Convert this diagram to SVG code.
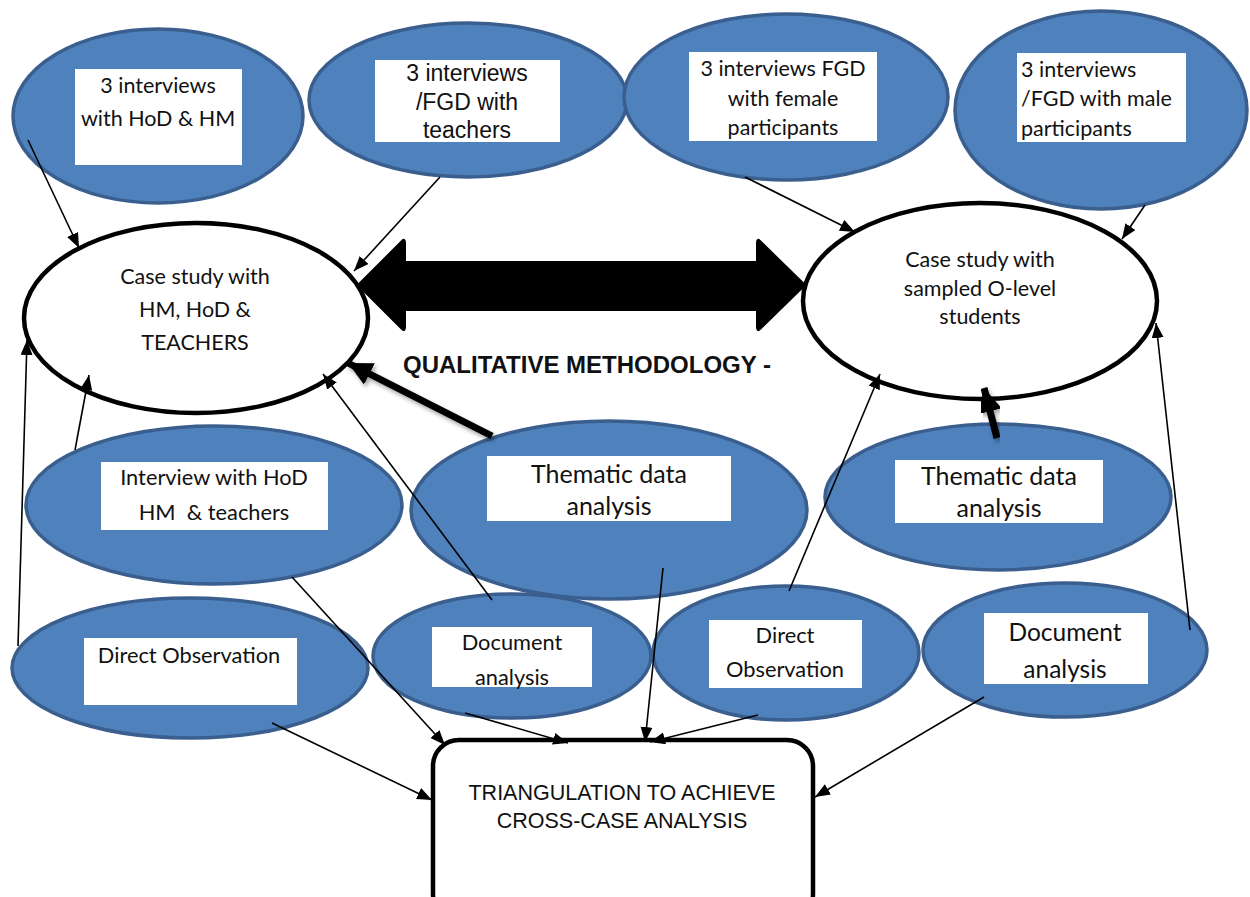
<svg xmlns="http://www.w3.org/2000/svg" width="1250" height="897" viewBox="0 0 1250 897">
  <style>
    .blob { fill: #4F81BD; stroke: #3A5F8E; stroke-width: 3.5; }
    .case { fill: #ffffff; stroke: #000000; stroke-width: 4.5; }
    .box { fill: #ffffff; stroke: none; }
    .cal { font-family: Lato, "Open Sans", sans-serif; fill: #111111; }
    .ari { font-family: "Liberation Sans", Arial, sans-serif; fill: #111111; }
    .link { stroke: #000000; stroke-width: 1.6; fill: none; marker-end: url(#tip); }
    .heavy { stroke: #000000; stroke-width: 7; fill: none; marker-end: url(#bigtip); }
  </style>
  <defs>
    <marker id="tip" markerUnits="userSpaceOnUse" markerWidth="16" markerHeight="14" refX="15" refY="6" orient="auto">
      <path d="M0,0 L15,6 L0,12 Z" fill="#000000"/>
    </marker>
    <marker id="bigtip" markerUnits="userSpaceOnUse" markerWidth="26" markerHeight="26" refX="24" refY="12" orient="auto">
      <path d="M0,0 L24,12 L0,24 Z" fill="#000000"/>
    </marker>
    <filter id="shade" x="-20%" y="-20%" width="140%" height="140%">
      <feGaussianBlur in="SourceAlpha" stdDeviation="2"/>
      <feOffset dx="2" dy="3" result="b"/>
      <feComponentTransfer><feFuncA type="linear" slope="0.35"/></feComponentTransfer>
      <feMerge><feMergeNode/><feMergeNode in="SourceGraphic"/></feMerge>
    </filter>
  </defs>

  <rect width="1250" height="897" fill="#ffffff"/>

  <!-- top row: data sources -->
  <g id="hod-hm-interviews">
    <ellipse class="blob" cx="158" cy="116" rx="145" ry="87"/>
    <rect class="box" x="75" y="69" width="167" height="96"/>
    <text class="cal" font-size="21.5" text-anchor="middle" x="158" y="93">3 interviews</text>
    <text class="cal" font-size="21.5" text-anchor="middle" x="158" y="126">with HoD &amp; HM</text>
  </g>

  <g id="teacher-interviews">
    <ellipse class="blob" cx="468" cy="100" rx="159" ry="77"/>
    <rect class="box" x="375" y="60" width="185" height="82"/>
    <text class="ari" font-size="23" text-anchor="middle" x="467" y="81">3 interviews</text>
    <text class="ari" font-size="23" text-anchor="middle" x="467" y="110">/FGD with</text>
    <text class="ari" font-size="23" text-anchor="middle" x="467" y="138">teachers</text>
  </g>

  <g id="female-interviews">
    <ellipse class="blob" cx="786" cy="97" rx="162" ry="83"/>
    <rect class="box" x="689" y="52" width="188" height="89"/>
    <text class="cal" font-size="21.5" text-anchor="middle" x="783" y="76">3 interviews FGD</text>
    <text class="cal" font-size="21.5" text-anchor="middle" x="783" y="106">with female</text>
    <text class="cal" font-size="21.5" text-anchor="middle" x="783" y="135">participants</text>
  </g>

  <g id="male-interviews">
    <ellipse class="blob" cx="1101" cy="110" rx="146" ry="99"/>
    <rect class="box" x="1017" y="53" width="169" height="89"/>
    <text class="cal" font-size="21.5" x="1021" y="77">3 interviews</text>
    <text class="cal" font-size="21.5" x="1021" y="106">/FGD with male</text>
    <text class="cal" font-size="21.5" x="1021" y="136">participants</text>
  </g>

  <!-- the two cases -->
  <g id="case-staff">
    <ellipse class="case" cx="196" cy="318" rx="172" ry="95"/>
    <text class="cal" font-size="21.5" text-anchor="middle" x="195" y="284">Case study with</text>
    <text class="cal" font-size="21.5" text-anchor="middle" x="195" y="317">HM, HoD &amp;</text>
    <text class="cal" font-size="21.5" text-anchor="middle" x="195" y="350">TEACHERS</text>
  </g>

  <g id="case-students">
    <ellipse class="case" cx="980" cy="301" rx="177" ry="98"/>
    <text class="cal" font-size="21.5" text-anchor="middle" x="980" y="267">Case study with</text>
    <text class="cal" font-size="21.5" text-anchor="middle" x="980" y="296">sampled O-level</text>
    <text class="cal" font-size="21.5" text-anchor="middle" x="980" y="324">students</text>
  </g>

  <!-- double-headed link between the cases -->
  <g id="methodology-arrow">
    <path d="M358,285 L402,241 Q405,238 405,243 L405,262 L757,262 L757,243 Q757,238 760,241 L805,285 L760,329 Q757,332 757,327 L757,310 L405,310 L405,327 Q405,332 402,329 Z" fill="#000000" stroke="#000000" stroke-width="2" stroke-linejoin="round"/>
    <text class="ari" font-size="24" font-weight="bold" x="403" y="373">QUALITATIVE METHODOLOGY -</text>
  </g>

  <!-- middle row -->
  <g id="staff-interview">
    <ellipse class="blob" cx="214" cy="505" rx="188" ry="79"/>
    <rect class="box" x="101" y="462" width="227" height="68"/>
    <text class="cal" font-size="21.8" text-anchor="middle" x="214" y="485">Interview with HoD</text>
    <text class="cal" font-size="21.8" text-anchor="middle" x="214" y="520" xml:space="preserve">HM  &amp; teachers</text>
  </g>

  <g id="thematic-staff">
    <ellipse class="blob" cx="609" cy="510" rx="198" ry="89"/>
    <rect class="box" x="487" y="456" width="244" height="65"/>
    <text class="cal" font-size="25" text-anchor="middle" x="609" y="483">Thematic data</text>
    <text class="cal" font-size="25" text-anchor="middle" x="609" y="515">analysis</text>
  </g>

  <g id="thematic-students">
    <ellipse class="blob" cx="998" cy="497" rx="173" ry="73"/>
    <rect class="box" x="895" y="460" width="208" height="63"/>
    <text class="cal" font-size="25" text-anchor="middle" x="999" y="485">Thematic data</text>
    <text class="cal" font-size="25" text-anchor="middle" x="999" y="517">analysis</text>
  </g>

  <!-- bottom row -->
  <g id="observation-staff">
    <ellipse class="blob" cx="190" cy="668" rx="178" ry="70"/>
    <rect class="box" x="84" y="638" width="213" height="67"/>
    <text class="cal" font-size="21.8" text-anchor="middle" x="189" y="663">Direct Observation</text>
  </g>

  <g id="documents-staff">
    <ellipse class="blob" cx="512" cy="656" rx="139" ry="62"/>
    <rect class="box" x="432" y="627" width="160" height="60"/>
    <text class="cal" font-size="21.8" text-anchor="middle" x="512" y="650">Document</text>
    <text class="cal" font-size="21.8" text-anchor="middle" x="512" y="685">analysis</text>
  </g>

  <g id="observation-students">
    <ellipse class="blob" cx="786" cy="653" rx="133" ry="67"/>
    <rect class="box" x="709" y="620" width="153" height="68"/>
    <text class="cal" font-size="21.8" text-anchor="middle" x="785" y="643">Direct</text>
    <text class="cal" font-size="21.8" text-anchor="middle" x="785" y="677">Observation</text>
  </g>

  <g id="documents-students">
    <ellipse class="blob" cx="1065" cy="650" rx="142" ry="67"/>
    <rect class="box" x="984" y="613" width="164" height="71"/>
    <text class="cal" font-size="24.5" text-anchor="middle" x="1065" y="641">Document</text>
    <text class="cal" font-size="24.5" text-anchor="middle" x="1065" y="678">analysis</text>
  </g>

  <!-- outcome -->
  <g id="triangulation">
    <rect x="433" y="740" width="380" height="180" rx="26" ry="26" fill="#ffffff" stroke="#000000" stroke-width="4.5"/>
    <text class="ari" font-size="21.5" text-anchor="middle" x="622" y="800">TRIANGULATION TO ACHIEVE</text>
    <text class="ari" font-size="21.5" text-anchor="middle" x="622" y="828">CROSS-CASE ANALYSIS</text>
  </g>

  <!-- connectors -->
  <g id="connectors">
    <line class="link" x1="28" y1="140" x2="79" y2="248"/>
    <line class="link" x1="440" y1="177" x2="354" y2="271"/>
    <line class="link" x1="745" y1="177" x2="855" y2="232"/>
    <line class="link" x1="1145" y1="205" x2="1122" y2="239"/>
    <line class="link" x1="18" y1="646" x2="27" y2="340"/>
    <line class="link" x1="75" y1="450" x2="89" y2="375"/>
    <line class="link" x1="492" y1="600" x2="323" y2="374"/>
    <line class="link" x1="292" y1="577" x2="445" y2="745"/>
    <line class="link" x1="272" y1="723" x2="432" y2="800"/>
    <line class="link" x1="465" y1="713" x2="568" y2="743"/>
    <line class="link" x1="663" y1="568" x2="645" y2="742"/>
    <line class="link" x1="758" y1="715" x2="650" y2="742"/>
    <line class="link" x1="984" y1="697" x2="815" y2="797"/>
    <line class="link" x1="789" y1="591" x2="880" y2="374"/>
    <line class="link" x1="1190" y1="630" x2="1156" y2="323"/>
    <line class="heavy" x1="492" y1="436" x2="348" y2="363" filter="url(#shade)"/>
    <line class="heavy" x1="997" y1="438" x2="984" y2="388" filter="url(#shade)"/>
  </g>
</svg>
